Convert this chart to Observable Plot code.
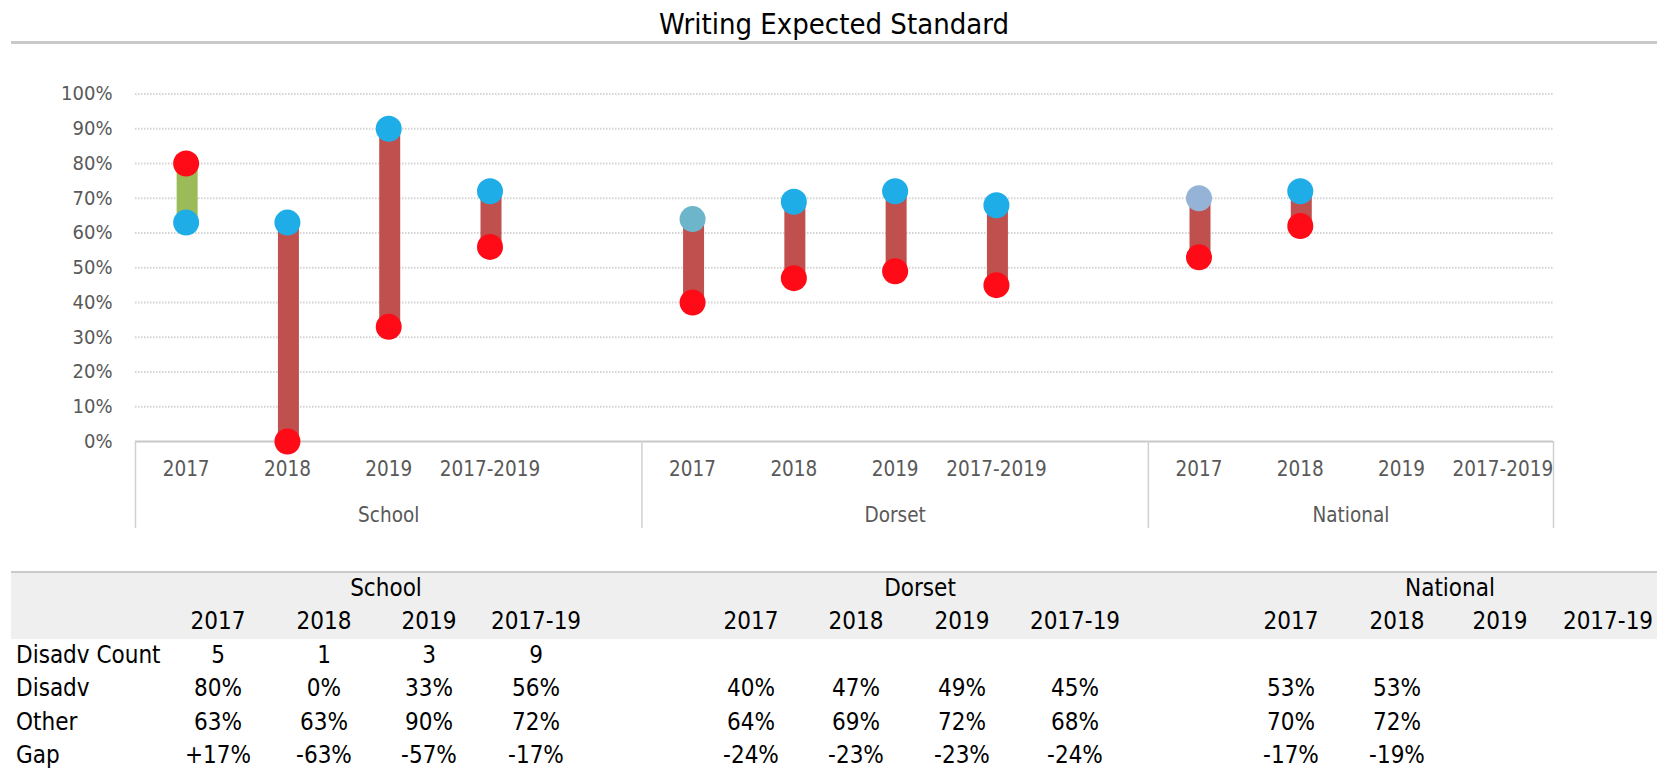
<!DOCTYPE html>
<html><head><meta charset="utf-8">
<script src="https://cdn.jsdelivr.net/npm/d3@7"></script>
<script src="https://cdn.jsdelivr.net/npm/@observablehq/plot@0.6"></script>
<style>
body{margin:0;background:#fff;font-family:"DejaVu Sans Condensed","DejaVu Sans",sans-serif;font-stretch:condensed;}
#wrap{position:relative;width:1666px;height:769px;overflow:hidden;background:#fff;}
#chart{position:absolute;left:0;top:0;}
#title{position:absolute;left:11px;top:0;width:1646px;height:41px;border-bottom:3px solid #C9C9C9;text-align:center;font-size:29px;line-height:48px;color:#000;z-index:2;}
.hdrbg{position:absolute;left:11px;top:571px;width:1646px;height:66px;background:#EFEFEF;border-top:2px solid #CACACA;z-index:1;}
.cell{position:absolute;font-size:24px;color:#000;white-space:nowrap;transform:translate(-50%,-50%);z-index:2;}
.lab{position:absolute;font-size:24px;color:#000;white-space:nowrap;transform:translate(0,-50%);z-index:2;}
</style></head>
<body>
<div id="wrap">
  <div id="chart"></div>
  <div id="title">Writing Expected Standard</div>
  <div class="hdrbg"></div>
</div>
<script>
// ---------- data ----------
const groups = ["School", "Dorset", "National"];
const periods = ["2017", "2018", "2019", "2017-2019"];

const schoolDisadv = [0.80, 0.00, 0.33, 0.56];
const schoolOther  = [0.63, 0.63, 0.90, 0.72];
const dorsetDisadv = [0.40, 0.47, 0.49, 0.45];
const dorsetOther  = [0.64, 0.69, 0.72, 0.68];
const nationalDisadv = [0.53, 0.62, null, null];
const nationalOther  = [0.70, 0.72, null, null];

const yTicks = [0, 0.1, 0.2, 0.3, 0.4, 0.5, 0.6, 0.7, 0.8, 0.9, 1.0];

// table texts
const tableYears = ["2017", "2018", "2019", "2017-19"];
const rowLabels = ["Disadv Count", "Disadv", "Other", "Gap"];
const schoolCountTxt  = ["5", "1", "3", "9"];
const schoolDisadvTxt = ["80%", "0%", "33%", "56%"];
const schoolOtherTxt  = ["63%", "63%", "90%", "72%"];
const schoolGapTxt    = ["+17%", "-63%", "-57%", "-17%"];
const dorsetCountTxt  = ["", "", "", ""];
const dorsetDisadvTxt = ["40%", "47%", "49%", "45%"];
const dorsetOtherTxt  = ["64%", "69%", "72%", "68%"];
const dorsetGapTxt    = ["-24%", "-23%", "-23%", "-24%"];
const nationalCountTxt  = ["", "", "", ""];
const nationalDisadvTxt = ["53%", "53%", "", ""];
const nationalOtherTxt  = ["70%", "72%", "", ""];
const nationalGapTxt    = ["-17%", "-19%", "", ""];

// ---------- styles ----------
const RED_DOT = "#FF0a17", BLUE_DOT = "#1EADE7";
const BAR_NEG = "#C0504D", BAR_POS = "#9BBB59";
const otherColorOverride = {"Dorset|2017": "#6CB5CB", "National|2017": "#95B3D6"};

// ---------- build rows ----------
const disadvByGroup = [schoolDisadv, dorsetDisadv, nationalDisadv];
const otherByGroup = [schoolOther, dorsetOther, nationalOther];
const rows = [];
const groupRows = [];
const bounds = [0];
let offset = 0;
groups.forEach((g, gi) => {
  const nSlots = periods.length + (gi < groups.length - 1 ? 1 : 0);
  periods.forEach((p, pi) => {
    rows.push({group: g, period: p, slot: offset + pi + 0.5,
      disadv: disadvByGroup[gi][pi], other: otherByGroup[gi][pi]});
  });
  groupRows.push({group: g, mid: offset + nSlots / 2});
  offset += nSlots;
  bounds.push(offset);
});
const valid = rows.filter(d => d.disadv != null && d.other != null);

const chart = Plot.plot({
  width: 1666, height: 545,
  marginLeft: 135, marginRight: 113, marginTop: 93.5, marginBottom: 104,
  x: {domain: [0, offset], axis: null},
  y: {domain: [0, 1], axis: null},
  color: {type: "identity"},
  style: {fontFamily: '"DejaVu Sans Condensed","DejaVu Sans",sans-serif', background: "transparent", overflow: "visible"},
  marks: [
    Plot.ruleY(yTicks.filter(t => t > 0), {stroke: "#D4D4D4", strokeWidth: 2, strokeDasharray: "1.5,1.5"}),
    Plot.ruleY([0], {stroke: "#C8C8C8", strokeWidth: 2}),
    Plot.ruleX(bounds, {x: d => d, insetTop: 347.5, insetBottom: -87, stroke: "#D0D0D0", strokeWidth: 1.5}),
    Plot.axisY({ticks: yTicks, tickFormat: d3.format(".0%"), tickSize: 0, tickPadding: 23, fontSize: 20, fill: "#595959", label: null}),
    Plot.text(rows, {x: "slot", y: 0, text: "period", dy: 28, fontSize: 20.5, fill: "#595959"}),
    Plot.text(groupRows, {x: "mid", y: 0, text: "group", dy: 74, fontSize: 20.5, fill: "#595959"}),
    Plot.ruleX(valid, {x: "slot", y1: "disadv", y2: "other", dx: 1, strokeWidth: 21,
      stroke: d => d.disadv > d.other ? BAR_POS : BAR_NEG}),
    Plot.dot(rows, {x: "slot", y: "other", r: 13, stroke: null,
      fill: d => otherColorOverride[d.group + "|" + d.period] || BLUE_DOT}),
    Plot.dot(rows, {x: "slot", y: "disadv", r: 13, stroke: null, fill: RED_DOT})
  ]
});
document.getElementById("chart").appendChild(chart);

// ---------- table ----------
const wrap = document.getElementById("wrap");
const colX = [[218, 324, 429, 536], [751, 856, 962, 1075], [1291, 1397, 1500, 1608]];
const groupHeadX = [386, 920, 1450];
const rowY = [588, 621, 655, 688, 722, 755];
function cell(txt, x, y, cls) {
  const el = document.createElement("div");
  el.className = cls || "cell";
  el.textContent = txt;
  el.style.left = x + "px";
  el.style.top = y + "px";
  wrap.appendChild(el);
}
const tableByGroup = [
  [schoolCountTxt, schoolDisadvTxt, schoolOtherTxt, schoolGapTxt],
  [dorsetCountTxt, dorsetDisadvTxt, dorsetOtherTxt, dorsetGapTxt],
  [nationalCountTxt, nationalDisadvTxt, nationalOtherTxt, nationalGapTxt]
];
groups.forEach((g, gi) => {
  cell(g, groupHeadX[gi], rowY[0]);
  tableYears.forEach((yr, ci) => cell(yr, colX[gi][ci], rowY[1]));
  tableByGroup[gi].forEach((arr, ri) => arr.forEach((t, ci) => { if (t) cell(t, colX[gi][ci], rowY[ri + 2]); }));
});
rowLabels.forEach((l, ri) => cell(l, 16, rowY[ri + 2], "lab"));
</script>
</body></html>
